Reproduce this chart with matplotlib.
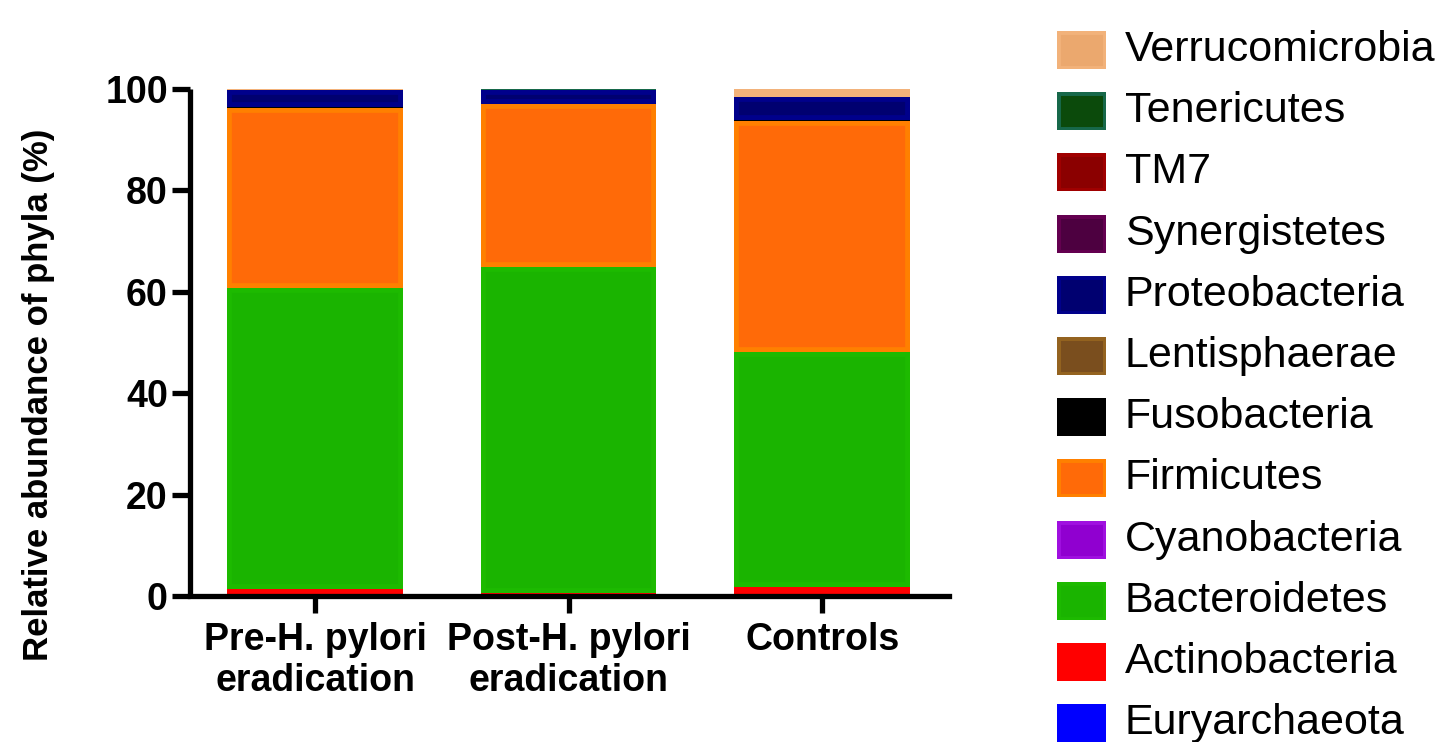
import matplotlib
matplotlib.use("Agg")
import matplotlib.pyplot as plt
from matplotlib.patches import Rectangle
import numpy as np

plt.rcParams['font.family'] = ['Liberation Sans', 'DejaVu Sans']

groups = ["Pre-H. pylori\neradication", "Post-H. pylori\neradication", "Controls"]

# stacking order bottom -> top
phyla = ["Euryarchaeota", "Actinobacteria", "Bacteroidetes", "Cyanobacteria",
         "Firmicutes", "Fusobacteria", "Lentisphaerae", "Proteobacteria",
         "Synergistetes", "TM7", "Tenericutes", "Verrucomicrobia"]

euryarchaeota   = [0.0, 0.0, 0.0]
actinobacteria  = [1.4, 0.6, 1.8]
bacteroidetes   = [59.3, 64.3, 46.3]
cyanobacteria   = [0.05, 0.05, 0.05]
firmicutes      = [35.6, 32.0, 45.6]
fusobacteria    = [0.05, 0.05, 0.05]
lentisphaerae   = [0.0, 0.0, 0.05]
proteobacteria  = [3.4, 2.9, 4.5]
synergistetes   = [0.0, 0.0, 0.0]
tm7             = [0.0, 0.0, 0.05]
tenericutes     = [0.05, 0.05, 0.05]
verrucomicrobia = [0.15, 0.05, 1.5]

values = [euryarchaeota, actinobacteria, bacteroidetes, cyanobacteria, firmicutes,
          fusobacteria, lentisphaerae, proteobacteria, synergistetes, tm7,
          tenericutes, verrucomicrobia]

face_colors = ["#0000FF", "#FF0000", "#1AB400", "#9000D0", "#FF6A08", "#000000",
               "#7A4E1E", "#000070", "#4D0040", "#8B0000", "#0B4A0B", "#EBA86E"]
edge_colors = ["#0000FF", "#FF0000", "#1DBA00", "#A010E0", "#FF8000", "#000000",
               "#946320", "#00008B", "#640050", "#A00000", "#17684A", "#F2B27A"]

W, H = 1452, 742
fig = plt.figure(figsize=(W / 100, H / 100), dpi=100)
ax = fig.add_axes([190 / W, (H - 596) / H, (949 - 190) / W, (596 - 89) / H])

x = np.arange(len(groups))
bottom = np.zeros(len(groups))
for vals, fc, ec in zip(values, face_colors, edge_colors):
    vals = np.array(vals)
    bars = ax.bar(x, vals, width=0.693, bottom=bottom, color=fc, edgecolor=ec,
                  linewidth=7, zorder=2)
    for p in bars:
        p.set_clip_path(p)
    bottom += vals

ax.set_xlim(-0.493, 2.5)
ax.set_ylim(0, 100)
ax.set_yticks([0, 20, 40, 60, 80, 100])
ax.set_xticks(x)
ax.set_xticklabels(groups, fontsize=27, fontweight='bold', linespacing=1.15)
for lab in ax.get_yticklabels():
    lab.set_fontsize(27)
    lab.set_fontweight('bold')
ax.tick_params(axis='y', length=13, width=3.8, pad=3)
ax.tick_params(axis='x', length=12, width=3.8, pad=7)
for s in ['top', 'right']:
    ax.spines[s].set_visible(False)
for s in ['left', 'bottom']:
    ax.spines[s].set_linewidth(3.8)
ax.spines['left'].set_capstyle('butt')

ax.set_ylabel("Relative abundance of phyla (%)", fontsize=25, fontweight='bold')
ax.yaxis.set_label_coords(-0.178, 0.396)

# legend (top to bottom: reverse of stacking order)
leg_top = 50
leg_step = 61.2
for i, idx in enumerate(range(len(phyla) - 1, -1, -1)):
    cy = leg_top + i * leg_step
    rx, rw, rh = 1057, 49, 38
    rect = Rectangle(((rx) / W, (H - cy - rh / 2) / H), rw / W, rh / H,
                     transform=fig.transFigure, facecolor=face_colors[idx],
                     edgecolor=edge_colors[idx], linewidth=5)
    rect.set_clip_path(rect)
    fig.patches.append(rect)
    fig.text(1125 / W, (H - cy) / H, phyla[idx], fontsize=31, va='center', ha='left')

fig.savefig("out.png", dpi=100)
